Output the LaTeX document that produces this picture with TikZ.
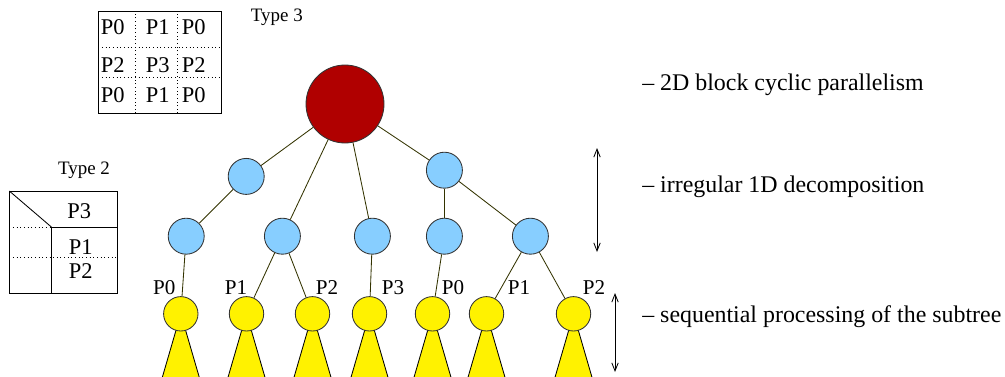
\documentclass[tikz,border=0pt]{standalone}
\usepackage{fontspec}
\setmainfont{Liberation Serif}
\usetikzlibrary{arrows.meta, positioning}
\definecolor{rootred}{HTML}{B00000}
\definecolor{nodeblue}{HTML}{87CEFF}
\definecolor{linkolive}{HTML}{333300}

\begin{document}
\begin{tikzpicture}[>={Straight Barb[length=2mm,width=1.6mm]},
    every node/.style={font=\fontsize{15}{17}\selectfont, inner sep=0pt},
    rootnode/.style={circle, draw=black!80, line width=0.6pt, fill=rootred, minimum size=1.95cm},
    midnode/.style={circle, draw=black!80, line width=0.6pt, fill=nodeblue, minimum size=0.9cm},
    leafnode/.style={circle, draw=black!80, line width=0.6pt, fill=yellow, minimum size=0.86cm},
    link/.style={draw=linkolive, line width=0.6pt},
    cell/.style={font=\fontsize{16}{18}\selectfont},
    tag/.style={font=\fontsize{13.5}{15}\selectfont},
    note/.style={font=\fontsize{17}{20}\selectfont, anchor=base west}]

    \useasboundingbox (0,0) rectangle (25.125,9.4);

    % Type 3 block: 3x3 grid of processes
    \node[tag] (type3) at (6.92,8.975) {Type 3};
    \draw[line width=0.6pt] (2.458,6.567) rectangle (5.525,9.125);
    \draw[dotted, line width=0.6pt] (3.393,6.567) -- (3.393,9.125);
    \draw[dotted, line width=0.6pt] (4.433,6.567) -- (4.433,9.125);
    \draw[dotted, line width=0.6pt] (2.458,8.217) -- (5.525,8.217);
    \draw[dotted, line width=0.6pt] (2.458,7.467) -- (5.525,7.467);
    \foreach \y/\a/\b/\c [count=\r] in {8.733/P0/P1/P0, 7.775/P2/P3/P2, 7.025/P0/P1/P0} {
        \node[cell] (g\r a) at (2.82,\y) {\a};
        \node[cell] (g\r b) at (3.945,\y) {\b};
        \node[cell] (g\r c) at (4.843,\y) {\c};
    }

    % Type 2 block: master row plus slave rows
    \node[tag] (type2) at (2.1,5.15) {Type 2};
    \draw[line width=0.6pt] (0.233,2.068) rectangle (2.933,4.625);
    \draw[line width=0.6pt] (0.233,4.625) -- (1.293,3.718);
    \draw[line width=0.6pt] (1.293,2.068) -- (1.293,3.718) -- (2.933,3.718);
    \draw[dotted, line width=0.6pt] (0.233,3.718) -- (1.293,3.718);
    \draw[dotted, line width=0.6pt] (0.233,2.968) -- (2.933,2.968);
    \node[cell] (m3) at (1.98,4.125) {P3};
    \node[cell] (m1) at (2.02,3.233) {P1};
    \node[cell] (m2) at (2.02,2.633) {P2};

    % Tree: root, middle levels
    \node[rootnode] (root) at (8.625,6.8) {};
    \node[midnode] (a1) at (6.155,4.99) {};
    \node[midnode] (a2) at (11.11,5.145) {};
    \foreach \x [count=\i] in {4.655, 7.06, 9.31, 11.11, 13.26} {
        \node[midnode] (b\i) at (\x,3.495) {};
    }

    % Subtrees: triangle under each leaf
    \foreach \x [count=\i] in {4.52, 6.1625, 7.8125, 9.2375, 10.8125, 12.1625, 14.3375} {
        \filldraw[fill=yellow, draw=black, line width=0.6pt]
            (\x,1.555) -- (\x-0.54,-0.3) -- (\x+0.54,-0.3) -- cycle;
        \node[leafnode] (s\i) at (\x,1.555) {};
    }

    \foreach \u/\v in {root/a1, root/b2, root/b3, root/a2, a1/b1, a2/b4, a2/b5,
                       b1/s1, b2/s2, b2/s3, b3/s4, b4/s5, b5/s6, b5/s7} {
        \draw[link] (\u) -- (\v);
    }

    % Process labels above the leaves
    \foreach \x/\lab [count=\i] in {4.105/P0, 5.9/P1, 8.175/P2, 9.825/P3,
                                    11.325/P0, 12.975/P1, 14.85/P2} {
        \node (p\i) at (\x,2.2125) {\lab};
    }

    % Level markers
    \coordinate (u1) at (14.925,5.7);
    \coordinate (u2) at (14.925,3.1);
    \draw[<->, line width=0.6pt] (u1) -- (u2);
    \coordinate (v1) at (15.375,2.075);
    \coordinate (v2) at (15.375,0.1);
    \draw[<->, line width=0.6pt] (v1) -- (v2);

    \node[note] (t1) at (16.05,7.15) {-- 2D block cyclic parallelism};
    \node[note] (t2) at (16.05,4.6) {-- irregular 1D decomposition};
    \node[note] (t3) at (16.05,1.33) {-- sequential processing of the subtree};

\end{tikzpicture}
\end{document}
